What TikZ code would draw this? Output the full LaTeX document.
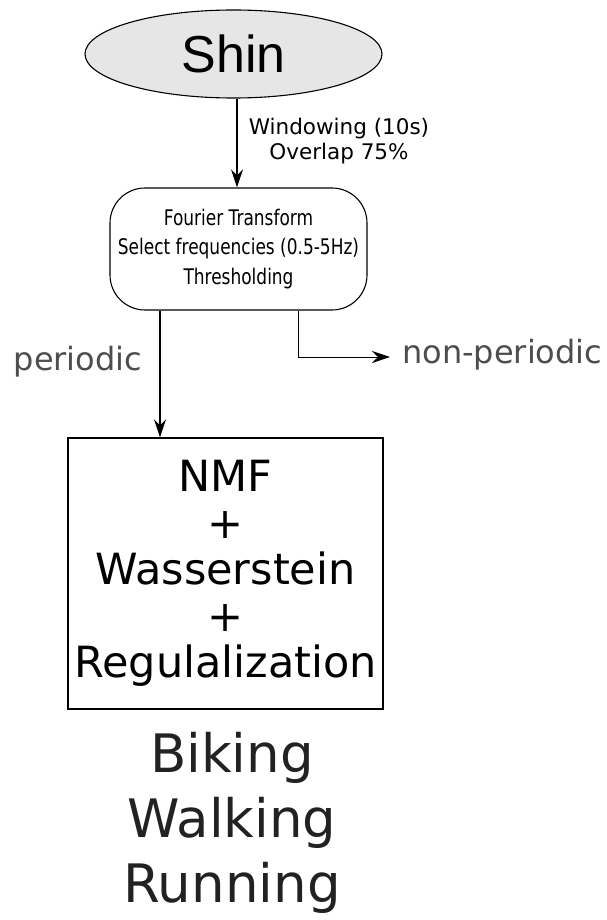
\documentclass[tikz,border=0pt]{standalone}
\usepackage{fontspec}
\setmainfont{DejaVu Sans}
\newfontfamily\shinfont{Liberation Sans}
\newfontfamily\narrowfont{DejaVu Sans}[FakeStretch=0.79]
\usepackage{xcolor}
\usepackage{tikz}
\usetikzlibrary{shapes.geometric}
\usetikzlibrary{arrows.meta}
\definecolor{labelgray}{HTML}{4D4D4D}
\definecolor{resultgray}{HTML}{222222}
\definecolor{shinfill}{HTML}{E6E6E6}
\tikzset{
    flow/.style = {line width = 1.2pt, -{Stealth[length = 18pt, width = 12pt, inset = 6pt]}},
    plain/.style = {draw = none, inner sep = 0pt, align = center}
}

\begin{document}
\begin{tikzpicture}[x = 1pt, y = -1pt]
        \useasboundingbox (0, 0) rectangle (607, 920);

        \node [ellipse, draw, line width = 1.1pt, fill = shinfill, minimum width = 297pt,
            minimum height = 88pt, inner sep = 0pt, font = \shinfont\fontsize{52}{60}\selectfont]
            (shin) at (233.5, 54) {Shin};
        \node [draw, rounded corners = 35pt, line width = 1.1pt, minimum width = 257pt,
            minimum height = 122pt, inner sep = 0pt, align = center,
            font = \narrowfont\fontsize{21.5}{29.5}\selectfont] (fourier) at (238.5, 249)
            {Fourier Transform\\ Select frequencies (0.5-5Hz)\\ Thresholding};
        \node [draw, line width = 1.4pt, minimum width = 315pt, minimum height = 271pt,
            inner sep = 0pt, align = center, font = \fontsize{43}{46.5}\selectfont]
            (nmf) at (225.5, 573.5) {NMF\\ +\\ Wasserstein\\ +\\ Regulalization};

        \node [plain, font = \fontsize{21.5}{25}\selectfont] (window) at (339, 141)
            {Windowing (10s)\\ Overlap 75\%};
        \node [plain, text = labelgray, font = \fontsize{32}{36}\selectfont] (periodic)
            at (78, 362) {periodic};
        \node [plain, anchor = west, text = labelgray, font = \fontsize{32}{36}\selectfont]
            (nonperiodic) at (402, 355) {non-periodic};
        \node [plain, text = resultgray, font = \fontsize{53}{65}\selectfont] (result)
            at (232, 823) {Biking\\ Walking\\ Running};

        % where the connectors leave and reach the boxes
        \coordinate (winx) at (237, 0);
        \coordinate (perx) at (160, 0);
        \coordinate (nonx) at (298, 0);
        \coordinate (nonend) at (390, 357);

        \draw [flow] (shin.south -| winx) -- (fourier.north -| winx);
        \draw [flow] (fourier.south -| perx) -- (nmf.north -| perx);
        \draw [flow, line width = 1pt] (fourier.south -| nonx) |- (nonend);
    \end{tikzpicture}
\end{document}
